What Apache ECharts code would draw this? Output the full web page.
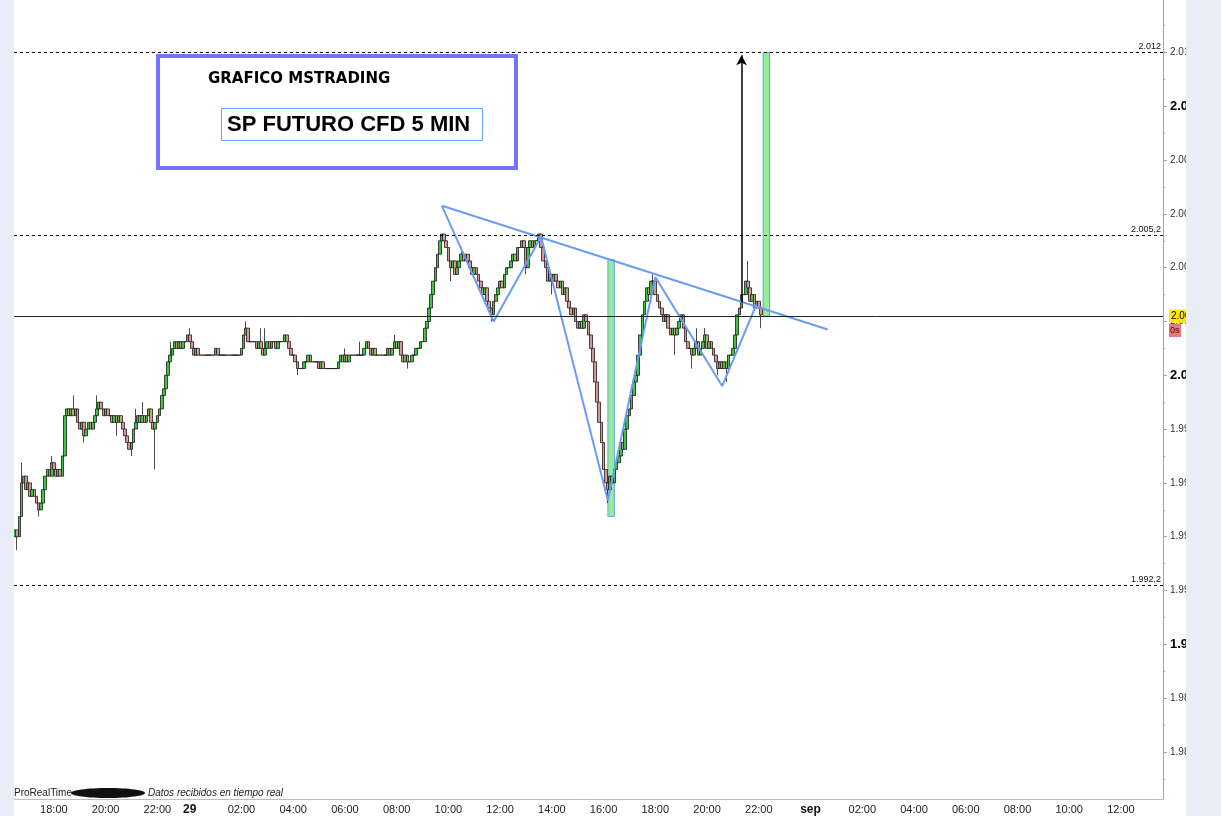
<!DOCTYPE html>
<html><head><meta charset="utf-8">
<script src="https://cdn.jsdelivr.net/npm/echarts@6/dist/echarts.min.js"></script>
<style>html,body{margin:0;padding:0;background:#fff}#c{width:1221px;height:816px}</style>
</head><body><div id="c"></div>
<script>
// ---- time slots (5 min bars, session gap 23:15-00:00, weekend skipped) ----
const slotSegments = [['28', '16:30', 81], ['29', '00:00', 288], ['sep', '00:00', 164]];
const xTickLabels = ['28 18:00','28 20:00','28 22:00','29 00:00','29 02:00','29 04:00','29 06:00','29 08:00',
  '29 10:00','29 12:00','29 14:00','29 16:00','29 18:00','29 20:00','29 22:00','sep 00:00','sep 02:00',
  'sep 04:00','sep 06:00','sep 08:00','sep 10:00','sep 12:00'];

// ---- price data ----
const firstOpen = 1994.0;
const closes = [
  1994.25,1994.0,1994.75,1996.0,1996.25,1995.75,1996.0,1995.5,1995.75,1995.5,
  1995.25,1995.0,1995.25,1995.75,1996.25,1996.5,1996.25,1996.75,1996.5,1996.25,
  1996.5,1996.25,1997.0,1998.5,1998.75,1998.5,1998.75,1998.5,1998.75,1998.25,
  1998.0,1998.25,1997.75,1998.0,1998.25,1998.0,1998.25,1998.5,1998.75,1999.0,
  1998.75,1998.5,1998.75,1998.5,1998.5,1998.25,1998.5,1998.25,1998.5,1998.25,
  1998.0,1997.75,1997.5,1997.25,1997.5,1998.0,1998.25,1998.5,1998.25,1998.5,
  1998.25,1998.5,1998.75,1998.25,1998.0,1998.25,1998.5,1998.75,1999.25,1999.5,
  2000.0,2000.5,2000.75,2001.0,2001.25,2001.0,2001.25,2001.0,2001.25,2001.25,
  2001.5,2001.25,2001.0,2000.75,2001.0,2000.75,2000.75,2000.75,2000.75,2000.75,
  2000.75,2000.75,2000.75,2001.0,2000.75,2000.75,2000.75,2000.75,2000.75,2000.75,
  2000.75,2000.75,2000.75,2000.75,2000.75,2001.0,2001.5,2001.75,2001.25,2001.25,
  2001.25,2001.25,2001.0,2001.25,2001.0,2000.75,2001.0,2001.25,2001.0,2001.25,
  2001.25,2001.0,2001.25,2001.25,2001.25,2001.5,2001.25,2001.0,2000.75,2000.75,
  2000.5,2000.25,2000.25,2000.25,2000.5,2000.5,2000.75,2000.5,2000.5,2000.5,
  2000.5,2000.25,2000.5,2000.25,2000.25,2000.25,2000.25,2000.25,2000.25,2000.25,
  2000.5,2000.75,2000.5,2000.75,2000.5,2000.75,2000.75,2000.75,2000.75,2000.75,
  2000.75,2000.75,2001.0,2001.25,2001.0,2000.75,2001.0,2000.75,2000.75,2000.75,
  2000.75,2000.75,2000.75,2001.0,2000.75,2001.0,2001.25,2001.0,2001.25,2000.75,
  2000.5,2000.75,2000.5,2000.5,2000.75,2000.75,2001.0,2001.0,2001.25,2001.25,
  2001.75,2002.0,2002.5,2003.0,2003.5,2004.0,2004.5,2005.0,2005.25,2005.0,
  2004.75,2004.25,2004.0,2004.25,2003.75,2004.0,2004.25,2004.5,2004.25,2004.5,
  2004.25,2004.0,2003.75,2004.0,2003.75,2003.5,2003.25,2003.0,2003.25,2002.75,
  2002.5,2002.25,2002.75,2003.0,2003.25,2003.5,2003.25,2003.75,2004.0,2004.0,
  2004.25,2004.5,2004.25,2004.75,2004.75,2005.0,2004.75,2004.0,2004.75,2005.0,
  2004.75,2005.0,2005.0,2005.25,2004.75,2004.25,2004.0,2003.5,2003.75,2003.5,
  2003.75,2003.5,2003.25,2003.5,2003.0,2003.25,2002.75,2002.5,2002.25,2002.5,
  2002.0,2001.75,2002.0,2001.75,2002.25,2002.0,2001.5,2001.0,2000.5,1999.75,
  1999.0,1998.25,1997.5,1996.5,1996.0,1995.75,1996.25,1996.0,1996.5,1996.75,
  1997.0,1997.5,1997.25,1998.0,1998.5,1998.75,1999.25,1999.75,2000.0,2000.75,
  2001.5,2002.25,2002.75,2003.25,2003.0,2003.5,2003.5,2003.0,2002.75,2002.5,
  2002.25,2002.0,2002.25,2001.75,2001.5,2001.75,2001.5,2001.75,2002.0,2002.25,
  2001.75,2001.25,2001.0,2001.0,2000.75,2001.0,2001.25,2000.75,2001.0,2001.25,
  2001.5,2001.0,2001.25,2001.0,2000.75,2000.5,2000.25,2000.5,2000.25,2000.5,
  2000.25,2000.75,2000.75,2001.0,2001.5,2002.25,2002.5,2003.0,2003.0,2003.5,
  2003.25,2002.75,2003.0,2002.5,2002.75,2002.5,2002.25
];
const wickHighs = [[3,1996.75],[17,1997.0],[27,1999.25],[38,1999.25],[56,1998.75],[59,1999.0],[72,2001.25],
  [81,2001.75],[107,2002.0],[114,2001.75],[116,2001.75],[153,2001.0],[160,2001.25],[176,2001.5],
  [207,2004.75],[296,2003.75],[316,2001.75],[320,2001.75],[340,2004.25]];
const wickLows = [[1,1993.5],[11,1994.75],[32,1997.5],[47,1997.75],[54,1997.0],[65,1996.5],[131,2000.0],
  [182,2000.25],[202,2003.5],[221,2002.0],[237,2003.75],[249,2003.0],[275,1995.25],[306,2000.75],
  [314,2000.25],[326,2000.0],[330,1999.75],[346,2001.75]];

// ---- axis ticks and reference levels ----
const yTicks = [1986,1988,1990,1992,1994,1996,1998,2000,2002,2004,2006,2008,2010,2012];
const yMinorTicks = [1985,1987,1989,1991,1993,1995,1997,1999,2001,2003,2005,2007,2009,2011,2013];
const levelLines = [2012, 2005.2, 1992.2];
const levelLabels = ['2.012', '2.005,2', '1.992,2'];
const lastPrice = 2002.2;
const lastPriceLabel = '2.002';

// ---- drawn annotations (slot index, price) ----
const patternPath = [[198,2006.3],[222,2002.0],[244,2005.15],[275,1995.35],[297,2003.65],[328,1999.6],[344,2002.65]];
const trendLine = [[198,2006.3],[377,2001.7]];
const highlightBoxes = [[275,278,1994.75,2004.3],[347,350,2002.2,2012.0]];
const arrowMark = [337, 2002.7, 2011.9];

// ---- build categories ----
const categories = [];
slotSegments.forEach(([day, start, count]) => {
  const [h, m] = start.split(':').map(Number);
  let t = h * 60 + m;
  for (let k = 0; k < count; k++, t += 5) {
    const hh = String(Math.floor(t / 60)).padStart(2, '0');
    const mm = String(t % 60).padStart(2, '0');
    categories.push(day + ' ' + hh + ':' + mm);
  }
});

const hiMap = Object.fromEntries(wickHighs);
const loMap = Object.fromEntries(wickLows);
const candles = closes.map((c, i) => {
  const o = i === 0 ? firstOpen : closes[i - 1];
  let hi = Math.max(o, c), lo = Math.min(o, c);
  if (hiMap[i] !== undefined) hi = Math.max(hi, hiMap[i]);
  if (loMap[i] !== undefined) lo = Math.min(lo, loMap[i]);
  return [o, c, lo, hi];
});

function fmtPrice(v) {
  const r = Math.round(v);
  return Math.floor(r / 1000) + '.' + String(r % 1000).padStart(3, '0');
}

const yMin = 1984.25, yMax = 2013.95;
const BLUE = '#6a9cf6';

const chart = echarts.init(document.getElementById('c'), null, { renderer: 'canvas' });
chart.setOption({
  animation: false,
  backgroundColor: '#ffffff',
  textStyle: { fontFamily: 'Liberation Sans, Arial, sans-serif' },
  grid: { left: 14, right: 58, top: 0, bottom: 17 },
  xAxis: {
    type: 'category',
    data: categories,
    boundaryGap: true,
    axisLine: { lineStyle: { color: '#b4bfcd', width: 1 } },
    axisTick: { interval: (i, v) => xTickLabels.includes(v), length: 3, lineStyle: { color: '#9aa6b6' } },
    axisLabel: {
      interval: (i, v) => xTickLabels.includes(v),
      margin: 5,
      fontSize: 11,
      color: '#222',
      formatter: (v) => {
        const [d, t] = v.split(' ');
        return t === '00:00' ? '{d|' + d + '}' : t;
      },
      rich: { d: { fontSize: 12, fontWeight: 'bold', color: '#111' } }
    },
    splitLine: { show: false }
  },
  yAxis: [{
    type: 'value', position: 'right', min: yMin, max: yMax, scale: true,
    axisLine: { show: true, lineStyle: { color: '#9aa6b6' } },
    axisTick: { show: true, inside: false, length: 4, customValues: yTicks, lineStyle: { color: '#9aa6b6' } },
    axisLabel: {
      show: true, margin: 7, customValues: yTicks, fontSize: 10, color: '#333',
      formatter: (v) => (Math.round(v) % 10 === 0 ? '{b|' + fmtPrice(v) + '}' : fmtPrice(v)),
      rich: { b: { fontSize: 13, fontWeight: 'bold', color: '#000' } }
    },
    splitLine: { show: false }
  }, {
    type: 'value', position: 'right', min: yMin, max: yMax, scale: true,
    axisLine: { show: false },
    axisTick: { show: true, length: 2, customValues: yMinorTicks, lineStyle: { color: '#9aa6b6' } },
    axisLabel: { show: false },
    splitLine: { show: false }
  }],
  series: [
    {
      name: 'boxes', type: 'line', data: [], z: 1, silent: true,
      markArea: {
        silent: true,
        itemStyle: { color: '#94ee94', borderColor: BLUE, borderWidth: 1 },
        data: highlightBoxes.map(b => [{ xAxis: b[0], yAxis: b[2] }, { xAxis: b[1], yAxis: b[3] }])
      }
    },
    {
      name: 'SP', type: 'candlestick', data: candles, z: 3, barWidth: 3.2,
      itemStyle: { color: '#3cc83c', color0: '#d49898', borderColor: '#1a1a1a', borderColor0: '#2a1a1a', borderWidth: 0.8 },
      markLine: {
        silent: true, symbol: ['none', 'none'], animation: false,
        data: [
          ...levelLines.map((v, i) => ({
            yAxis: v,
            lineStyle: { color: '#000', type: [3, 3], width: 1 },
            label: { show: true, position: 'insideEndTop', formatter: levelLabels[i], fontSize: 9, color: '#111', distance: [2, 1] }
          })),
          {
            yAxis: lastPrice,
            lineStyle: { color: '#222', type: 'solid', width: 1 },
            label: { show: true, position: 'end', formatter: lastPriceLabel, fontSize: 10, color: '#000',
              backgroundColor: '#ffe600', padding: [2, 2, 1, 2], distance: 6 }
          },
          [
            { coord: [arrowMark[0], arrowMark[1]], symbol: 'none', lineStyle: { color: '#000', width: 1.5, type: 'solid' }, label: { show: false } },
            { coord: [arrowMark[0], arrowMark[2]], symbol: 'arrow', symbolSize: [8, 10] }
          ]
        ]
      }
    },
    {
      name: 'pattern', type: 'line', data: patternPath, z: 4, symbol: 'none', silent: true,
      lineStyle: { color: BLUE, width: 2 }
    },
    {
      name: 'trend', type: 'line', data: trendLine, z: 4, symbol: 'none', silent: true,
      lineStyle: { color: BLUE, width: 2 }
    }
  ],
  graphic: [
    { type: 'rect', z: 100, silent: true, shape: { x: 0, y: 0, width: 14, height: 816 }, style: { fill: '#e8eef8' } },
    { type: 'rect', z: 100, silent: true, shape: { x: 1186, y: 0, width: 35, height: 816 }, style: { fill: '#e8eef8' } },
    { type: 'rect', z: 50, silent: true, shape: { x: 158, y: 56, width: 358, height: 112 }, style: { fill: '#fff', stroke: '#7373ff', lineWidth: 4 } },
    { type: 'text', z: 51, silent: true, x: 208, y: 72, style: { text: 'GRAFICO MSTRADING', font: 'bold 15px "DejaVu Sans"', fill: '#000' } },
    { type: 'rect', z: 51, silent: true, shape: { x: 221.5, y: 108.5, width: 261, height: 32 }, style: { fill: '#fff', stroke: '#6d9cf5', lineWidth: 1 } },
    { type: 'text', z: 52, silent: true, x: 227, y: 114, style: { text: 'SP FUTURO CFD 5 MIN', font: 'bold 22px "Liberation Sans"', fill: '#000' } },
    { type: 'rect', z: 60, silent: true, shape: { x: 1169, y: 324, width: 12, height: 13 }, style: { fill: '#e77a7a' } },
    { type: 'text', z: 61, silent: true, x: 1170, y: 326, style: { text: '0s', font: '9px "Liberation Sans"', fill: '#5a0000' } },
    { type: 'text', z: 60, silent: true, x: 14, y: 788, style: { text: 'ProRealTime', font: '10px "Liberation Sans"', fill: '#222' } },
    { type: 'ellipse', z: 60, silent: true, shape: { cx: 108, cy: 793, rx: 37, ry: 5 }, style: { fill: '#111' } },
    { type: 'text', z: 60, silent: true, x: 148, y: 788, style: { text: 'Datos recibidos en tiempo real', font: 'italic 10px "Liberation Sans"', fill: '#222' } }
  ]
});
</script>
</body></html>
